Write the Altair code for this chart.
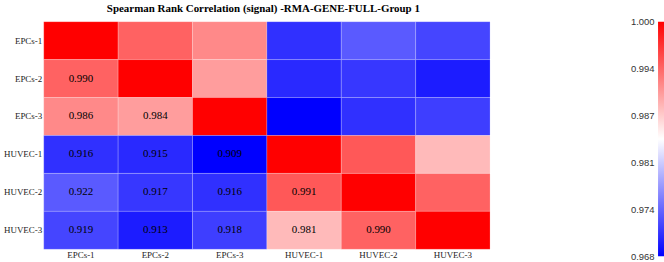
import altair as alt
import pandas as pd

categories = ["EPCs-1", "EPCs-2", "EPCs-3", "HUVEC-1", "HUVEC-2", "HUVEC-3"]
row_epcs1 = [1.000, 0.990, 0.986, 0.916, 0.922, 0.919]
row_epcs2 = [0.990, 1.000, 0.984, 0.915, 0.917, 0.913]
row_epcs3 = [0.986, 0.984, 1.000, 0.909, 0.916, 0.918]
row_huvec1 = [0.916, 0.915, 0.909, 1.000, 0.991, 0.981]
row_huvec2 = [0.922, 0.917, 0.916, 0.991, 1.000, 0.990]
row_huvec3 = [0.919, 0.913, 0.918, 0.981, 0.990, 1.000]
matrix = [row_epcs1, row_epcs2, row_epcs3, row_huvec1, row_huvec2, row_huvec3]

legend_lo = 0.968
legend_hi = 1.000
legend_ticks = [1.000, 0.9936, 0.9872, 0.9808, 0.9744, 0.968]

title_text = "Spearman Rank Correlation (signal) -RMA-GENE-FULL-Group 1"

records = []
for i, r in enumerate(categories):
    for j, c in enumerate(categories):
        v = matrix[i][j]
        records.append({"row": r, "col": c, "value": v,
                        "label": f"{v:.3f}" if i > j else ""})
df = pd.DataFrame(records)

serif = "Liberation Serif"

base = alt.Chart(df).encode(
    x=alt.X("col:N", sort=categories,
            axis=alt.Axis(title=None, orient="bottom", labelAngle=0, ticks=False,
                          domain=False, labelPadding=1, labelFont=serif,
                          labelFontSize=9, labelColor="#222")),
    y=alt.Y("row:N", sort=categories,
            axis=alt.Axis(title=None, ticks=False, domain=False, labelPadding=2,
                          labelFont=serif, labelFontSize=9, labelColor="#222")),
)

rect = base.mark_rect(stroke="white", strokeWidth=0.4, strokeOpacity=0.5).encode(
    color=alt.Color("value:Q",
                    scale=alt.Scale(domain=[0.909, 0.946, 0.974, 1.0],
                                    range=["#0000ff", "#ffffff", "#ffffff", "#ff0000"],
                                    interpolate="rgb"),
                    legend=None)
)
text = base.mark_text(font=serif, fontSize=11, color="black").encode(text="label:N")

heat = alt.layer(rect, text).properties(width=449, height=229)

leg_df = pd.DataFrame({"lo": [legend_lo], "hi": [legend_hi]})
leg = alt.Chart(leg_df).mark_rect(
    color=alt.Gradient(
        gradient="linear",
        stops=[alt.GradientStop(color="#ff0000", offset=0),
               alt.GradientStop(color="#ffffff", offset=0.5),
               alt.GradientStop(color="#0000ff", offset=1)],
        x1=0, x2=0, y1=0, y2=1)
).encode(
    y=alt.Y("hi:Q", scale=alt.Scale(domain=[legend_lo, legend_hi], nice=False, zero=False),
            axis=alt.Axis(values=legend_ticks, format=".3f", orient="left", ticks=False,
                          domain=False, grid=False, title=None, labelFlush=False,
                          labelFont="Liberation Sans", labelFontSize=9.5,
                          labelColor="#333", labelPadding=4)),
    y2="lo:Q",
    x=alt.value(0),
    x2=alt.value(6),
).properties(width=6, height=236)

chart = alt.hconcat(heat, leg, spacing=140).properties(
    title=alt.TitleParams(text=title_text, font=serif, fontSize=11, fontWeight="bold",
                          color="black", anchor="start", dx=104, offset=3),
    padding={"left": 3, "top": 2, "right": 0, "bottom": 0},
).configure_view(stroke=None)

chart.save("out.html", embed_options={"renderer": "svg", "actions": False})
